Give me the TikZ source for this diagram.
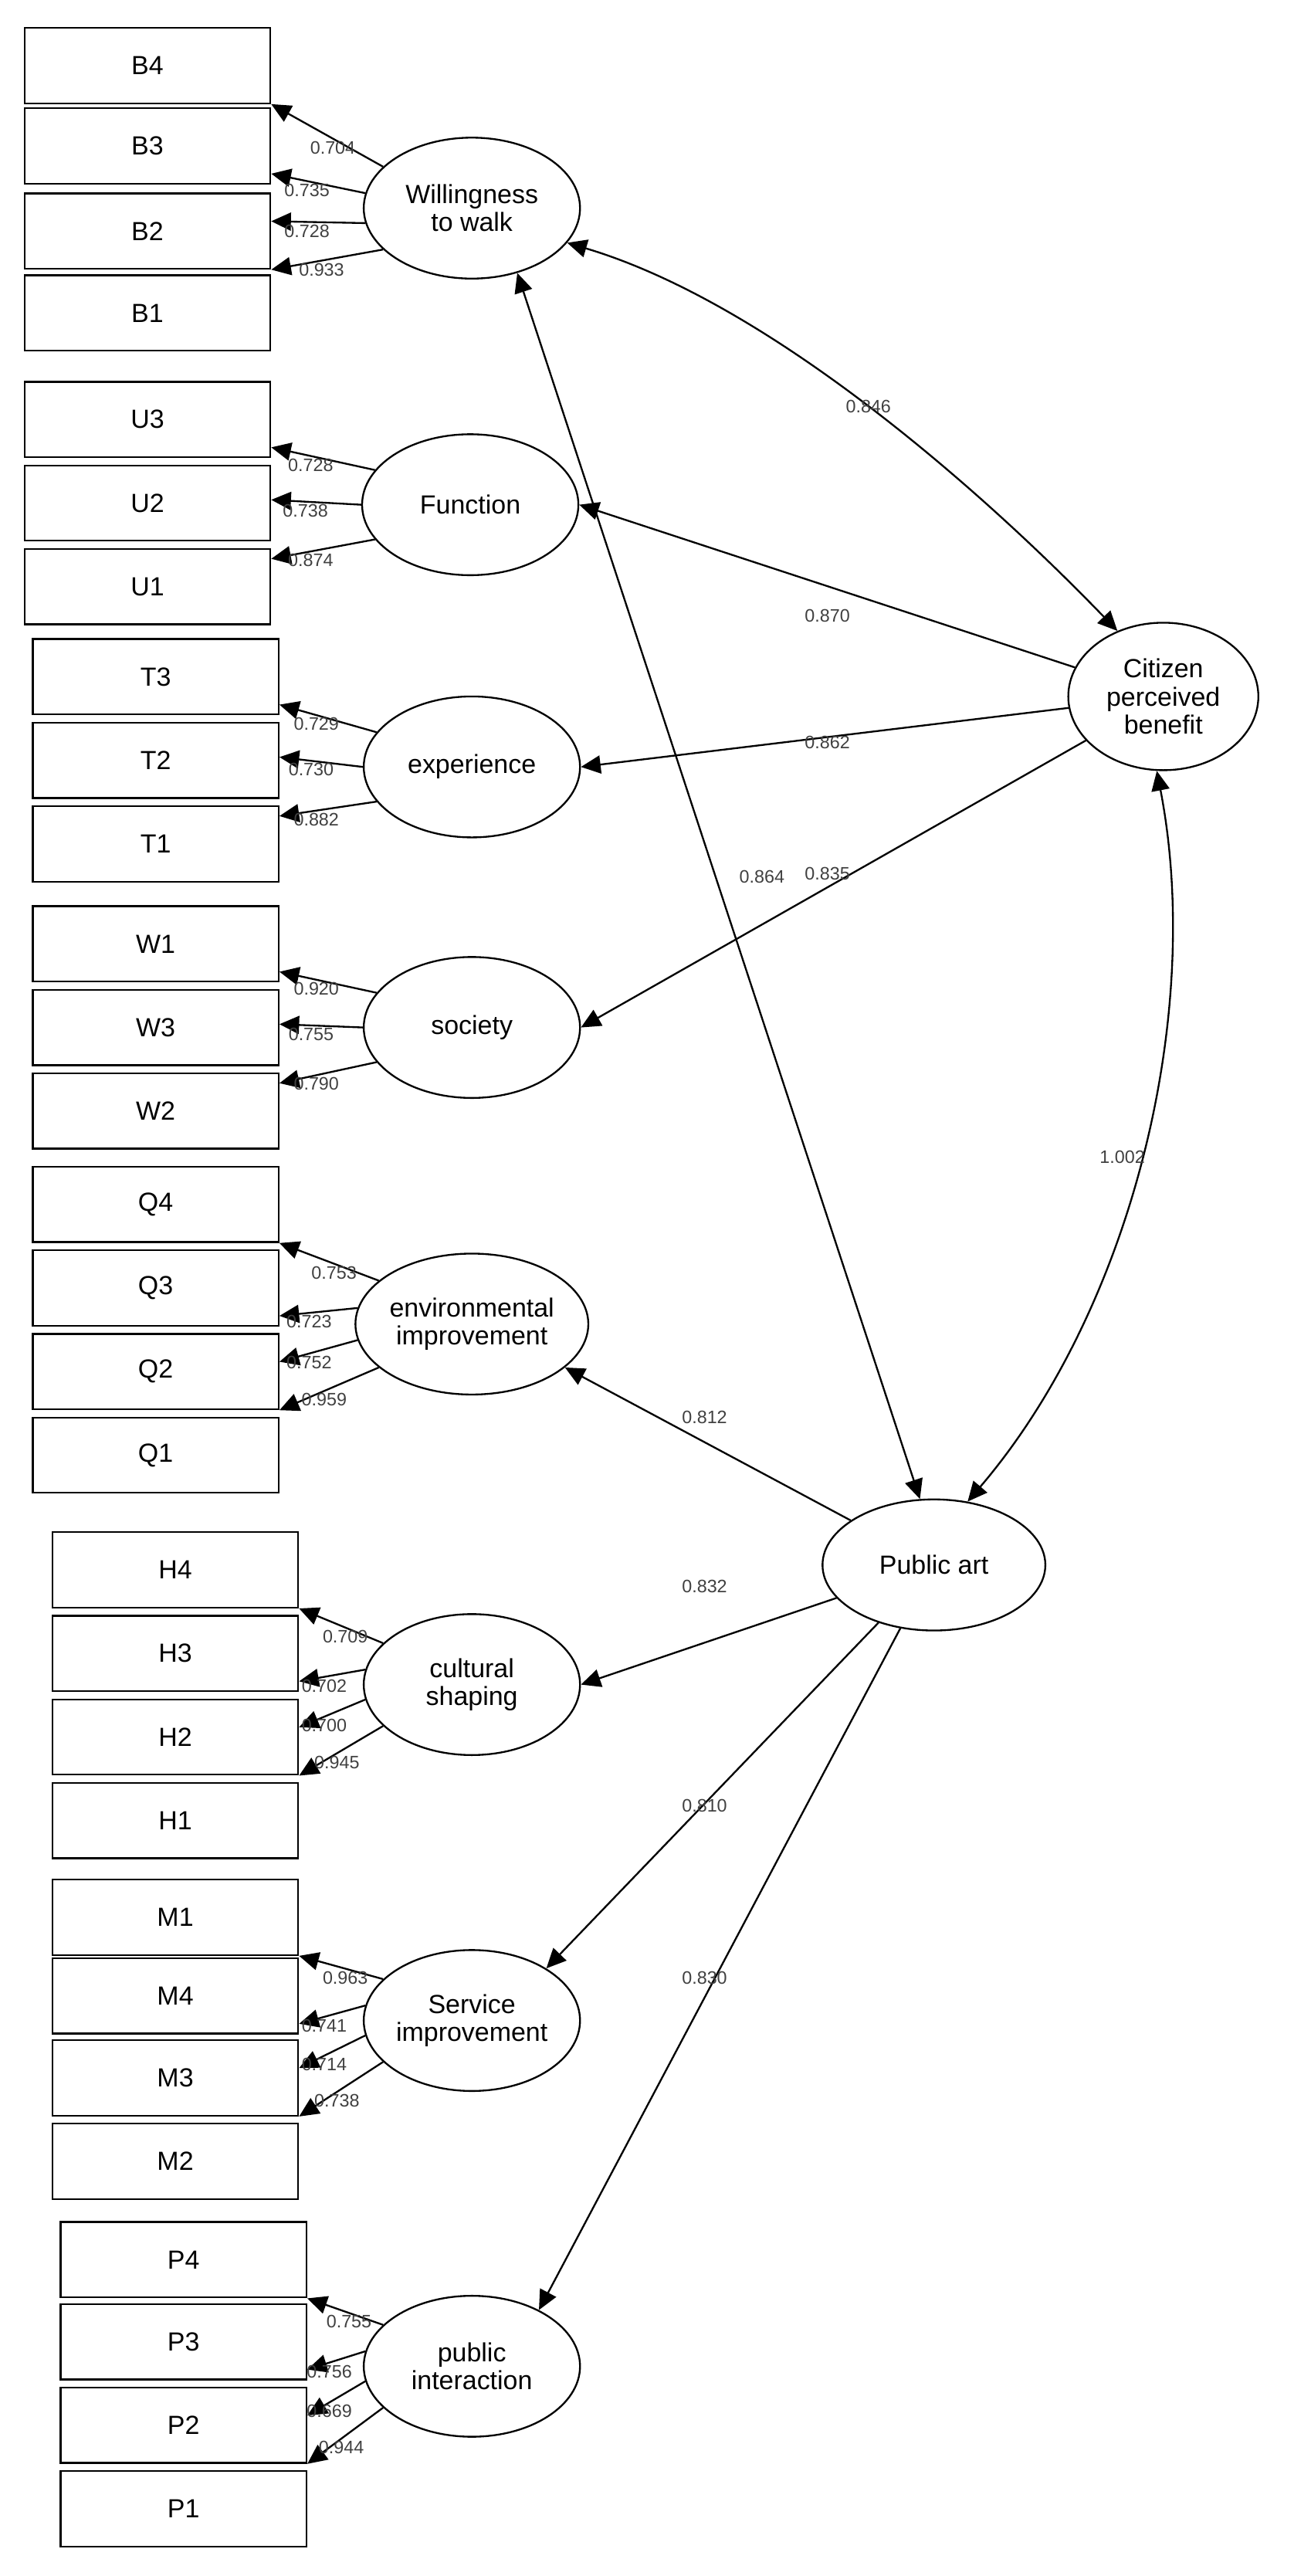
\documentclass[tikz,border=0pt]{standalone}
\usepackage{fontspec}
\setmainfont{Liberation Sans}
\usetikzlibrary{shapes.geometric,arrows.meta,calc}
\begin{document}
\begin{tikzpicture}[x=1pt,y=-1pt,
  box/.style={draw,line width=1.1pt,minimum width=150pt,minimum height=46pt,inner sep=0,font=\fontsize{16}{18}\selectfont},
  lat/.style={draw,ellipse,line width=1.1pt,minimum width=132pt,minimum height=86pt,inner sep=0,align=center,font=\fontsize{16}{17}\selectfont},
  arr/.style={line width=1.1pt,-{Triangle[length=12pt,width=11pt]}},
  darr/.style={line width=1.1pt,{Triangle[length=12pt,width=11pt]}-{Triangle[length=12pt,width=11pt]}},
  lab/.style={font=\fontsize{11}{12}\selectfont,text=black!75,inner sep=1pt}]
\useasboundingbox (0,0) rectangle (800,1572);
% latent
\node[lat] (W) at (288,127) {Willingness\\to walk};
\node[lat] (F) at (287,308) {Function};
\node[lat] (E) at (288,468) {experience};
\node[lat] (S) at (288,627) {society};
\node[lat] (V) at (288,808) {environmental\\improvement};
\node[lat] (C) at (288,1028) {cultural\\shaping};
\node[lat] (R) at (288,1233) {Service\\improvement};
\node[lat] (I) at (288,1444) {public\\interaction};
\node[lat,minimum width=116pt,minimum height=90pt] (CP) at (710,425) {Citizen\\perceived\\benefit};
\node[lat,minimum width=136pt,minimum height=80pt] (PA) at (570,955) {Public art};
% boxes
\foreach \n/\y in {B4/40,B3/89,B2/141,B1/191,U3/256,U2/307,U1/358}
  \node[box] (\n) at (90,\y) {\n};
\foreach \n/\y in {T3/413,T2/464,T1/515,W1/576,W3/627,W2/678,Q4/735,Q3/786,Q2/837,Q1/888}
  \node[box] (\n) at (95,\y) {\n};
\foreach \n/\y in {H4/958,H3/1009,H2/1060,H1/1111,M1/1170,M4/1218,M3/1268,M2/1319}
  \node[box] (\n) at (107,\y) {\n};
\foreach \n/\y in {P4/1379,P3/1429,P2/1480,P1/1531}
  \node[box] (\n) at (112,\y) {\n};
% four-indicator loadings
\foreach \L/\a/\b/\c/\d/\la/\lb/\lc/\ld in {
  W/B4/B3/B2/B1/0.704/0.735/0.728/0.933,
  V/Q4/Q3/Q2/Q1/0.753/0.723/0.752/0.959,
  C/H4/H3/H2/H1/0.709/0.702/0.700/0.945,
  R/M1/M4/M3/M2/0.963/0.741/0.714/0.738,
  I/P4/P3/P2/P1/0.755/0.756/0.669/0.944}{
  \draw[arr] (\L.155) -- (\a.south east) node[lab,pos=0.45,below]{\la};
  \draw[arr] (\L.172) -- ($(\b.east)+(0,17)$) node[lab,pos=0.62,below]{\lb};
  \draw[arr] (\L.188) -- ($(\c.east)+(0,-6)$) node[lab,pos=0.62,below]{\lc};
  \draw[arr] (\L.205) -- (\c.south east) node[lab,pos=0.55,below]{\ld};
}
% three-indicator loadings
\foreach \L/\a/\b/\c/\la/\lb/\lc in {
  F/U3/U2/U1/0.728/0.738/0.874,
  E/T3/T2/T1/0.729/0.730/0.882,
  S/W1/W3/W2/0.920/0.755/0.790}{
  \draw[arr] (\L.160) -- ($(\a.east)+(0,17)$) node[lab,pos=0.62,below]{\la};
  \draw[arr] (\L.180) -- ($(\b.east)+(0,-2)$) node[lab,pos=0.62,below]{\lb};
  \draw[arr] (\L.200) -- ($(\c.east)+(0,-17)$) node[lab,pos=0.62,below]{\lc};
}
% structural
\draw[arr] (CP) -- (F.east);
\draw[arr] (CP) -- (E.east);
\draw[arr] (CP) -- (S.east);
\draw[arr] (PA) -- (V.-25);
\draw[arr] (PA) -- (C.east);
\draw[arr] (PA) -- (R.35);
\draw[arr] (PA) -- (I.40);
\draw[darr] (W.-20) .. controls (470,185) and (600,300) .. (CP.125);
\draw[darr] (W.-55) -- (PA.102);
\draw[darr] (CP.-95) .. controls (735,620) and (690,800) .. (PA.62);
\node[lab] (l1) at (530,248) {0.846};
\node[lab] (l2) at (505,376) {0.870};
\node[lab] (l3) at (505,453) {0.862};
\node[lab] (l4) at (505,533) {0.835};
\node[lab] (l5) at (465,535) {0.864};
\node[lab] (l6) at (685,706) {1.002};
\node[lab] (l7) at (430,865) {0.812};
\node[lab] (l8) at (430,968) {0.832};
\node[lab] (l9) at (430,1102) {0.810};
\node[lab] (l10) at (430,1207) {0.830};
\end{tikzpicture}
\end{document}
